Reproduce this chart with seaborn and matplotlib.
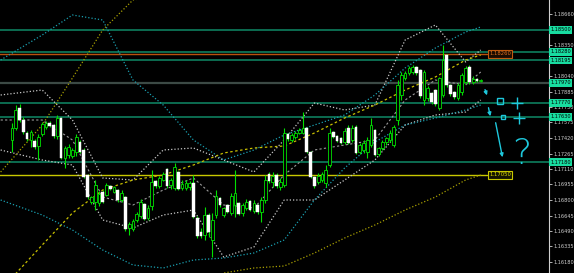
import numpy as np
import pandas as pd
import matplotlib
matplotlib.use("Agg")
import matplotlib.pyplot as plt
import seaborn as sns
from matplotlib.transforms import blended_transform_factory

sns.set_style("dark", {"axes.facecolor": "black", "figure.facecolor": "black"})
plt.rcParams['font.family'] = ['DejaVu Sans']

# ---------------- data ----------------
opens = [1.1740,1.1752,1.1772,1.1760,1.1747,1.1740,1.1739,1.1734,1.1746,1.1753,
1.1757,1.1755,1.1744,1.1762,1.1722,1.1725,1.1724,1.1728,1.1738,1.1730,
1.1705,1.1678,1.1678,1.1677,1.1688,1.1685,1.1694,1.1688,1.1690,1.1680,
1.1683,1.1652,1.1651,1.1660,1.1664,1.1676,1.1662,1.1674,1.1699,1.1694,
1.1700,1.1711,1.1695,1.1692,1.1708,1.1692,1.1692,1.1693,1.1697,1.1662,
1.1648,1.1645,1.1665,1.1640,1.1665,1.1682,1.1665,1.1675,1.1667,1.1675,
1.1677,1.1667,1.1672,1.1679,1.1669,1.1675,1.1668,1.1680,1.1706,1.1698,
1.1705,1.1693,1.1695,1.1746,1.1740,1.1743,1.1747,1.1747,1.1752,1.1728,
1.1703,1.1698,1.1700,1.1697,1.1715,1.1748,1.1744,1.1742,1.1738,1.1752,
1.1740,1.1753,1.1728,1.1730,1.1728,1.1735,1.1750,1.1726,1.1732,1.1738,
1.1740,1.1735,1.1760,1.1785,1.1802,1.1807,1.1808,1.1813,1.1810,1.1780,
1.1782,1.1787,1.1790,1.1772,1.1785,1.1825,1.1795,1.1788,1.1782,1.1788,
1.1798,1.1813,1.1798,1.1801,1.1799]
highs = [1.1757,1.1775,1.1776,1.1763,1.1749,1.1750,1.1741,1.1746,1.1758,1.1759,
1.1759,1.1756,1.1765,1.1763,1.1734,1.1736,1.1732,1.1746,1.1740,1.1732,
1.1706,1.1684,1.1700,1.1689,1.1690,1.1697,1.1695,1.1694,1.1691,1.1690,
1.1684,1.1658,1.1661,1.1668,1.1681,1.1677,1.1675,1.1710,1.1700,1.1704,
1.1708,1.1712,1.1702,1.1717,1.1709,1.1700,1.1700,1.1699,1.1705,1.1664,
1.1652,1.1673,1.1667,1.1667,1.1690,1.1683,1.1673,1.1676,1.1687,1.1710,
1.1678,1.1677,1.1681,1.1680,1.1680,1.1676,1.1683,1.1705,1.1708,1.1708,
1.1707,1.1702,1.1752,1.1747,1.1747,1.1749,1.1752,1.1768,1.1753,1.1729,
1.1704,1.1707,1.1708,1.1715,1.1752,1.1749,1.1745,1.1743,1.1752,1.1755,
1.1755,1.1755,1.1737,1.1740,1.1743,1.1762,1.1751,1.1733,1.1740,1.1743,
1.1750,1.1755,1.1800,1.1808,1.1809,1.1814,1.1815,1.1814,1.1811,1.1810,
1.1794,1.1788,1.1791,1.1803,1.1835,1.1826,1.1796,1.1789,1.1797,1.1807,
1.1814,1.1815,1.1804,1.1802,1.1801]
lows = [1.1728,1.1750,1.1758,1.1746,1.1739,1.1733,1.1731,1.1720,1.1744,1.1751,
1.1753,1.1742,1.1741,1.1721,1.1712,1.1722,1.1722,1.1724,1.1727,1.1702,
1.1681,1.1676,1.1670,1.1674,1.1677,1.1684,1.1690,1.1687,1.1678,1.1678,
1.1649,1.1645,1.1649,1.1658,1.1662,1.1660,1.1660,1.1670,1.1692,1.1692,
1.1699,1.1692,1.1691,1.1690,1.1690,1.1690,1.1690,1.1690,1.1662,1.1642,
1.1642,1.1640,1.1643,1.1623,1.1662,1.1673,1.1663,1.1667,1.1665,1.1663,
1.1665,1.1664,1.1670,1.1669,1.1667,1.1666,1.1658,1.1677,1.1697,1.1693,
1.1692,1.1690,1.1693,1.1739,1.1738,1.1741,1.1746,1.1746,1.1727,1.1702,
1.1692,1.1696,1.1698,1.1693,1.1713,1.1742,1.1738,1.1736,1.1736,1.1736,
1.1738,1.1726,1.1726,1.1727,1.1722,1.1733,1.1724,1.1724,1.1730,1.1735,
1.1738,1.1733,1.1755,1.1780,1.1800,1.1805,1.1806,1.1805,1.1782,1.1775,
1.1779,1.1776,1.1774,1.1770,1.1783,1.1793,1.1784,1.1781,1.1780,1.1785,
1.1796,1.1796,1.1796,1.1798,1.1798]
closes = [1.1752,1.1770,1.1760,1.1748,1.1741,1.1748,1.1733,1.1743,1.1756,1.1757,
1.1754,1.1744,1.1762,1.1722,1.1732,1.1733,1.1730,1.1743,1.1728,1.1703,
1.1683,1.1683,1.1695,1.1686,1.1678,1.1695,1.1691,1.1693,1.1680,1.1687,
1.1651,1.1656,1.1659,1.1666,1.1678,1.1661,1.1672,1.1698,1.1694,1.1702,
1.1706,1.1694,1.1700,1.1713,1.1691,1.1696,1.1697,1.1697,1.1663,1.1644,
1.1644,1.1665,1.1648,1.1660,1.1684,1.1675,1.1672,1.1668,1.1684,1.1687,
1.1666,1.1675,1.1678,1.1670,1.1677,1.1668,1.1680,1.1700,1.1699,1.1704,
1.1694,1.1698,1.1747,1.1741,1.1745,1.1747,1.1750,1.1752,1.1728,1.1703,
1.1694,1.1704,1.1706,1.1710,1.1747,1.1743,1.1739,1.1737,1.1749,1.1737,
1.1752,1.1727,1.1735,1.1737,1.1740,1.1755,1.1725,1.1732,1.1738,1.1742,
1.1747,1.1753,1.1795,1.1805,1.1807,1.1812,1.1813,1.1807,1.1784,1.1808,
1.1792,1.1778,1.1776,1.1802,1.1820,1.1795,1.1786,1.1783,1.1795,1.1805,
1.1812,1.1798,1.1801,1.1799,1.1800]

# indicator curves read at bar positions
node_bars = [-3, 8, 16, 24, 32, 40, 48, 56, 64, 72, 80, 88, 96, 104, 112, 120, 124]
bb_upper = [1.1785,1.1790,1.1760,1.1702,1.1700,1.1730,1.1732,1.1720,1.1708,1.1740,1.1777,1.1770,1.1775,1.1840,1.1855,1.1818,1.1830]
bb_mid   = [1.1760,1.1760,1.1740,1.1683,1.1675,1.1690,1.1702,1.1675,1.1672,1.1705,1.1730,1.1735,1.1740,1.1780,1.1800,1.1795,1.1808]
bb_lower = [1.1730,1.1720,1.1715,1.1660,1.1652,1.1665,1.1670,1.1623,1.1633,1.1680,1.1680,1.1700,1.1720,1.1755,1.1765,1.1768,1.1780]
cy_upper = [1.1820,1.1845,1.1865,1.1860,1.1800,1.1775,1.1740,1.1720,1.1730,1.1745,1.1755,1.1765,1.1785,1.1812,1.1832,1.1848,1.1853]
cy_lower = [1.1680,1.1665,1.1650,1.1630,1.1615,1.1612,1.1620,1.1622,1.1627,1.1640,1.1680,1.1712,1.1738,1.1755,1.1762,1.1770,1.1775]
ma_mid   = [1.1590,1.1635,1.1667,1.1690,1.1700,1.1705,1.1715,1.1727,1.1732,1.1734,1.1747,1.1762,1.1775,1.1790,1.1803,1.1820,1.1825]
ma_upper = [1.1708,1.1755,1.1802,1.1850,1.1880,1.1885,1.1895,1.1907,1.1912,1.1914,1.1927,1.1942,1.1955,1.1970,1.1983,1.2000,1.2005]
ma_lower = [1.1470,1.1515,1.1547,1.1570,1.1580,1.1585,1.1595,1.1607,1.1612,1.1614,1.1627,1.1642,1.1655,1.1670,1.1683,1.1700,1.1705]

green_levels = [1.1850, 1.1828, 1.18195, 1.1777, 1.1763, 1.1718]
gray_level = 1.1797
orange_level = 1.1826
yellow_level = 1.1705
tick_values = [1.18660,1.18350,1.18040,1.17885,1.17730,1.17575,1.17420,
               1.17265,1.17110,1.16955,1.16800,1.16645,1.16490,1.16335,1.16180]

# hand-drawn annotations (bar position, price)
arrow_from = [(124.9, 1.1793), (125.9, 1.1775), (127.8, 1.1760)]
arrow_to   = [(125.9, 1.1782), (126.7, 1.1761), (129.9, 1.1720)]
square_pts = [(129.1, 1.1779, 5.0), (130.0, 1.17635, 3.0)]
plus_pts   = [(133.6, 1.1777), (134.1, 1.1762)]
qmark_pt   = (134.9, 1.1726)

# ---------------- figure ----------------
GREEN = '#00E000'
CYAN = '#1EC8DC'
fig = plt.figure(figsize=(5.74, 2.73), dpi=100, facecolor='black')
ax = fig.add_axes([0, 0, 549/574, 1])
ax.set_facecolor('black')

df = pd.DataFrame({'o': opens, 'h': highs, 'l': lows, 'c': closes})
df['i'] = np.arange(len(df))
bull = df['c'] >= df['o']

# level lines
for lv in green_levels:
    ax.axhline(lv, color='#0F8A66', lw=1.1, zorder=1)
ax.axhline(gray_level, color='#3C4A45', lw=1.6, zorder=1)
ax.plot([-5, 125.6], [orange_level, orange_level], color='#B8520E', lw=1.0, zorder=1)
ax.plot([-5, 125.6], [yellow_level, yellow_level], color='#C8C800', lw=1.0, zorder=1)

# indicator lines
ind = pd.DataFrame({'bar': node_bars, 'bbu': bb_upper, 'bbm': bb_mid, 'bbl': bb_lower,
                    'cyu': cy_upper, 'cyl': cy_lower, 'mam': ma_mid, 'mau': ma_upper, 'mal': ma_lower})
for col, colr, ls, lw in [('bbu', '#C8C8C8', (0, (1, 1.6)), 0.9),
                          ('bbl', '#C8C8C8', (0, (1, 1.6)), 0.9),
                          ('bbm', '#9A9A9A', (0, (2, 2)), 0.8),
                          ('cyu', '#1A9FB0', (0, (1, 1.6)), 0.9),
                          ('cyl', '#1A9FB0', (0, (1, 1.6)), 0.9),
                          ('mam', '#C8C000', (0, (2, 2)), 0.9),
                          ('mau', '#A8A000', (0, (1, 1.6)), 0.9),
                          ('mal', '#A8A000', (0, (1, 1.6)), 0.9)]:
    sns.lineplot(data=ind, x='bar', y=col, ax=ax, color=colr, linestyle=ls, lw=lw, zorder=2)

# candles
ax.vlines(df['i'], df['l'], df['h'], color=GREEN, lw=0.8, zorder=3)
body_lo = np.minimum(df['o'], df['c'])
body_h = np.maximum(np.abs(df['c'] - df['o']), 0.00008)
ax.bar(df['i'][bull], body_h[bull], bottom=body_lo[bull], width=0.72,
       color='black', edgecolor=GREEN, lw=0.6, zorder=4)
ax.bar(df['i'][~bull], body_h[~bull], bottom=body_lo[~bull], width=0.72,
       color='white', edgecolor='white', lw=0.3, zorder=4)

# annotations
for (x0, y0), (x1, y1) in zip(arrow_from, arrow_to):
    ax.annotate('', xy=(x1, y1), xytext=(x0, y0),
                arrowprops=dict(arrowstyle='-|>', color=CYAN, lw=1.0, mutation_scale=5), zorder=6)
for x, y, s in square_pts:
    ax.plot([x], [y], marker='s', ms=s, mfc='none', mec=CYAN, mew=1.0, zorder=6)
for x, y in plus_pts:
    ax.plot([x], [y], marker='+', ms=8, mec=CYAN, mew=1.0, zorder=6)
ax.text(qmark_pt[0], qmark_pt[1], '?', color=CYAN, fontsize=26, fontweight='light',
        ha='center', va='center', zorder=6)

# in-chart price labels
ax.text(126.2, orange_level, f"{orange_level:.5f}", fontsize=3.8, color='#E07020', va='center', ha='left',
        bbox=dict(boxstyle='square,pad=0.2', fc='#1a0a00', ec='#C05A10', lw=0.8), zorder=7)
ax.text(126.2, yellow_level, f"{yellow_level:.5f}", fontsize=3.8, color='#E0E000', va='center', ha='left',
        bbox=dict(boxstyle='square,pad=0.2', fc='#141400', ec='#C8C800', lw=0.8), zorder=7)

# axes setup
ax.set_xlim(-3.17, 142.06)
ax.set_ylim(1.1607, 1.1880)
ax.set_xlabel(''); ax.set_ylabel('')
ax.set_xticks([])
ax.yaxis.tick_right()
ax.set_yticks(tick_values)
ax.set_yticklabels([f"{v:.5f}" for v in tick_values])
ax.tick_params(axis='y', colors='#D0D0D0', labelsize=3.6, length=2, width=0.6, pad=1.2, right=True, left=False)
for s in ['top', 'left', 'bottom']:
    ax.spines[s].set_visible(False)
ax.spines['right'].set_visible(True)
ax.spines['right'].set_color('#D0D0D0')
ax.spines['right'].set_linewidth(0.8)
ax.grid(False)

trans = blended_transform_factory(ax.transAxes, ax.transData)
for lv in green_levels + [gray_level]:
    ax.text(1.002, lv, f"{lv:.5f}", transform=trans, ha='left', va='center', fontsize=3.6, color='black',
            bbox=dict(boxstyle='square,pad=0.25', fc='#18DCA0', ec='none'), clip_on=False, zorder=8)

fig.savefig('out.png', dpi=100, facecolor='black')
